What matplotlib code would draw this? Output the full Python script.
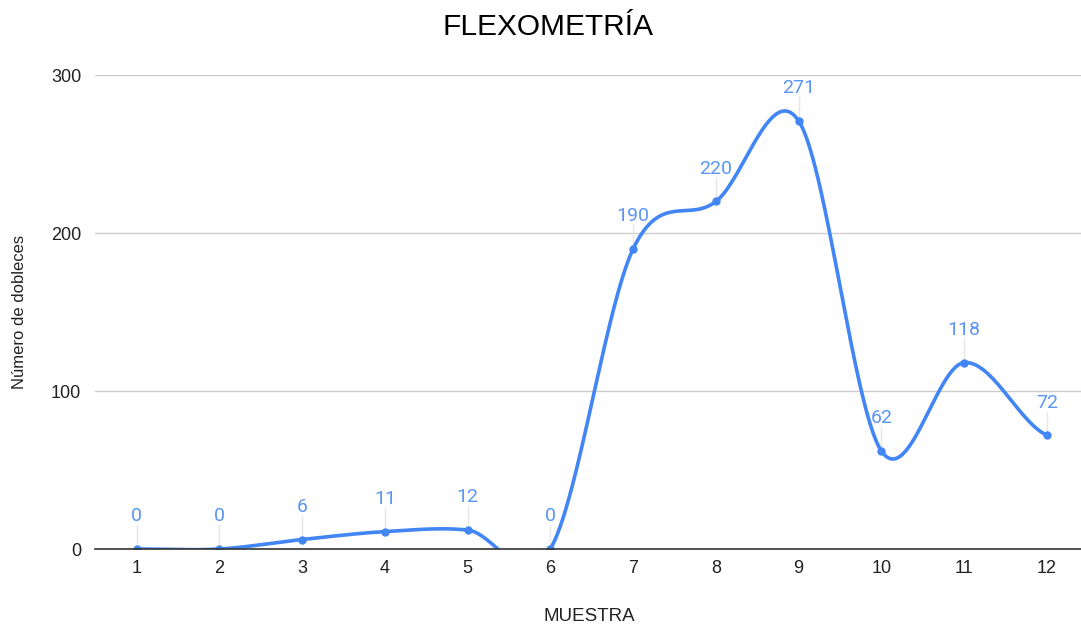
import numpy as np
import matplotlib
matplotlib.use("Agg")
from matplotlib import pyplot as plt

# muestras y número de dobleces
muestras = [1, 2, 3, 4, 5, 6, 7, 8, 9, 10, 11, 12]
dobleces = [0, 0, 6, 11, 12, 0, 190, 220, 271, 62, 118, 72]
yticks = [0, 100, 200, 300]

BLUE = "#4285F4"
LABEL_BLUE = "#5a95f5"


def smooth(xs, ys, n=60):
    # curva cardinal (Catmull-Rom) entre puntos consecutivos
    xs = np.asarray(xs, float)
    ys = np.asarray(ys, float)
    m = np.zeros_like(ys)
    m[1:-1] = (ys[2:] - ys[:-2]) / (xs[2:] - xs[:-2])
    m[0] = (ys[1] - ys[0]) / (xs[1] - xs[0]) * 0.5
    m[-1] = (ys[-1] - ys[-2]) / (xs[-1] - xs[-2]) * 0.5
    out_x, out_y = [], []
    for i in range(len(xs) - 1):
        h = xs[i + 1] - xs[i]
        t = np.linspace(0, 1, n, endpoint=(i == len(xs) - 2))
        h00 = 2 * t**3 - 3 * t**2 + 1
        h10 = t**3 - 2 * t**2 + t
        h01 = -2 * t**3 + 3 * t**2
        h11 = t**3 - t**2
        out_x.append(xs[i] + t * h)
        out_y.append(h00 * ys[i] + h10 * h * m[i] + h01 * ys[i + 1] + h11 * h * m[i + 1])
    return np.concatenate(out_x), np.concatenate(out_y)


plt.rcParams['font.family'] = ['Liberation Sans', 'DejaVu Sans']

fig = plt.figure(figsize=(10.81, 6.26), dpi=100)
ax = fig.add_axes([0.088, 0.123, 0.915, 0.757])

cx, cy = smooth(muestras, dobleces)
ax.plot(cx, cy, color=BLUE, lw=2.6, solid_capstyle='round', zorder=3)
ax.plot(muestras, dobleces, 'o', color=BLUE, ms=5, zorder=4)

# etiquetas de valor con su línea guía
for x, y in zip(muestras, dobleces):
    ax.plot([x, x], [y, y + 15], color="#e6e6e6", lw=1, zorder=2, clip_on=False)
    ax.annotate(str(y), (x, y + 15), ha='center', va='bottom', fontsize=14,
                color=LABEL_BLUE, family='Roboto', annotation_clip=False)

ax.set_xlim(0.5, 12.45)
ax.set_ylim(0, 300)
ax.set_xticks(muestras)
ax.set_yticks(yticks)
ax.grid(axis='y', color='#cccccc', lw=1)
ax.set_axisbelow(True)
for s in ['top', 'right', 'left']:
    ax.spines[s].set_visible(False)
ax.spines['bottom'].set_color('#333333')
ax.spines['bottom'].set_linewidth(1.2)
ax.spines['bottom'].set_zorder(5)
ax.tick_params(axis='both', length=0, labelsize=13, colors='#222222')
ax.tick_params(axis='x', pad=8)
ax.tick_params(axis='y', pad=10)

ax.set_xlabel('MUESTRA', fontsize=13.5, labelpad=22, color='#222222')
ax.set_ylabel('Número de dobleces', fontsize=12, labelpad=17, color='#222222')
fig.text(0.507, 1 - 27 / 626, 'FLEXOMETRÍA', fontsize=21.5, ha='center', va='center')

fig.savefig('out.png', dpi=100)
